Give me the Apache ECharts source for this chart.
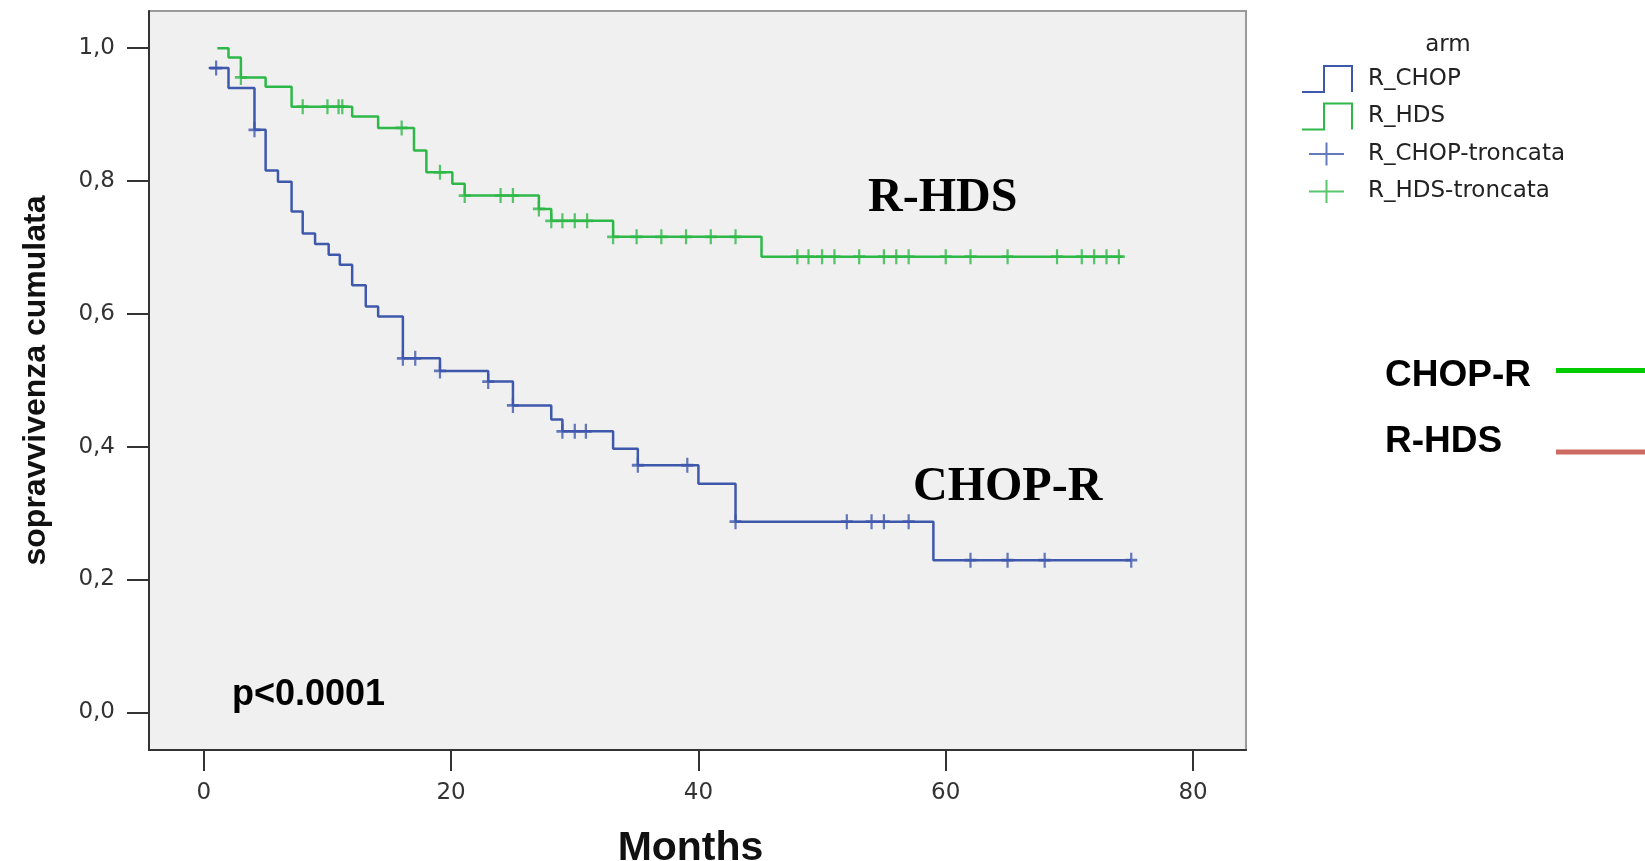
<!DOCTYPE html>
<html>
<head>
<meta charset="utf-8">
<script src="https://cdn.jsdelivr.net/npm/echarts@6/dist/echarts.min.js"></script>
<style>
html,body{margin:0;padding:0;background:#ffffff;}
#chart{width:1645px;height:861px;}
</style>
</head>
<body>
<div id="chart"></div>
<script>
// ---- data ----
const xTicks = [0, 20, 40, 60, 80];
const yTicks = [0, 0.2, 0.4, 0.6, 0.8, 1.0];

// R_CHOP Kaplan-Meier steps (time in months, cumulative survival after the step)
const chopTimes = [0.4, 2, 4.1, 5, 6, 7.1, 8, 9, 10.1, 11, 12, 13.1, 14.1, 16.1, 19.1, 23, 25, 28.1, 29, 33.1, 35.1, 40, 43, 59, 75];
const chopSurv  = [0.970, 0.940, 0.877, 0.816, 0.799, 0.754, 0.721, 0.705, 0.689, 0.674, 0.643, 0.611, 0.596, 0.533, 0.514, 0.498, 0.462, 0.441, 0.423, 0.397, 0.372, 0.344, 0.287, 0.229, 0.229];
// R_CHOP censored observations
const chopCensTimes = [1, 4.1, 16.1, 17.1, 19.1, 23, 25, 29, 30, 30.9, 35.1, 39.1, 43, 52, 54, 55, 57, 62, 65, 68, 75];
const chopCensSurv  = [0.970, 0.877, 0.533, 0.533, 0.514, 0.498, 0.462, 0.423, 0.423, 0.423, 0.372, 0.372, 0.287, 0.287, 0.287, 0.287, 0.287, 0.229, 0.229, 0.229, 0.229];

// R_HDS Kaplan-Meier steps
const hdsTimes = [1.1, 2, 3, 5, 7.1, 12, 14.1, 17, 18, 20.1, 21.1, 27.1, 28.1, 33.1, 45.1, 74.3];
const hdsSurv  = [1.0, 0.986, 0.956, 0.942, 0.912, 0.897, 0.880, 0.846, 0.813, 0.796, 0.778, 0.758, 0.740, 0.716, 0.686, 0.686];
// R_HDS censored observations
const hdsCensTimes = [3, 8, 10, 10.9, 11.2, 16, 19.1, 21.1, 24, 25, 27.1, 28.1, 29, 30, 31, 33.1, 35, 37, 39, 41, 43, 48, 48.9, 50, 51, 53, 55, 56, 57, 60, 62, 65, 69, 71, 72, 73, 74];
const hdsCensSurv  = [0.956, 0.912, 0.912, 0.912, 0.912, 0.880, 0.813, 0.778, 0.778, 0.778, 0.758, 0.740, 0.740, 0.740, 0.740, 0.716, 0.716, 0.716, 0.716, 0.716, 0.716, 0.686, 0.686, 0.686, 0.686, 0.686, 0.686, 0.686, 0.686, 0.686, 0.686, 0.686, 0.686, 0.686, 0.686, 0.686, 0.686];

const seriesNames = ['R_CHOP', 'R_HDS', 'R_CHOP-troncata', 'R_HDS-troncata'];

// ---- styling ----
const BLUE = '#3E58AC';
const GREEN = '#2EB848';
const stepIcon = 'path://M0,0 M61,28 M0,27 L22,27 L22,1 L50,1 L50,27';
const plusIcon = 'path://M0,0 M61,28 M7,14 L42,14 M24.5,2.5 L24.5,25.5';
const censorSymbol = 'path://M0,7 L12,7 M6,0 L6,14';

const zip = (a, b) => a.map((v, i) => [v, b[i]]);

const chart = echarts.init(document.getElementById('chart'), null, {renderer: 'canvas'});

const option = {
  backgroundColor: '#ffffff',
  animation: false,
  grid: {
    left: 149, right: 399, top: 11, bottom: 111,
    outerBoundsMode: 'none', containLabel: false,
    show: true, backgroundColor: '#f0f0f0', borderColor: '#9a9a9a', borderWidth: 2
  },
  xAxis: {
    type: 'value', min: -4.43, max: 84.28,
    name: 'Months', nameLocation: 'middle', nameGap: 78,
    nameTextStyle: {fontFamily: 'Liberation Sans', fontWeight: 'bold', fontSize: 41, color: '#111', padding: [0, 14, 0, 0]},
    axisLine: {show: true, onZero: false, lineStyle: {color: '#333', width: 2}},
    axisTick: {show: true, inside: false, length: 21, customValues: xTicks, lineStyle: {color: '#333', width: 2}},
    axisLabel: {customValues: xTicks, margin: 32, fontFamily: 'DejaVu Sans', fontSize: 23, color: '#333'},
    splitLine: {show: false}
  },
  yAxis: {
    type: 'value', min: -0.0568, max: 1.056,
    name: 'sopravvivenza cumulata', nameLocation: 'middle', nameGap: 97, nameRotate: 90,
    nameTextStyle: {fontFamily: 'Liberation Sans', fontWeight: 'bold', fontSize: 32, color: '#111'},
    axisLine: {show: true, onZero: false, lineStyle: {color: '#333', width: 2}},
    axisTick: {show: true, inside: false, length: 22, customValues: yTicks, lineStyle: {color: '#333', width: 2}},
    axisLabel: {customValues: yTicks, margin: 34, fontFamily: 'DejaVu Sans', fontSize: 23, color: '#333',
      formatter: v => v.toFixed(1).replace('.', ',')},
    splitLine: {show: false}
  },
  legend: {
    orient: 'vertical', left: 1301, top: 64, padding: 0,
    itemWidth: 61, itemHeight: 28, itemGap: 7.5, selectedMode: false,
    textStyle: {fontFamily: 'DejaVu Sans', fontSize: 23, color: '#222'},
    data: [
      {name: seriesNames[0], icon: stepIcon, itemStyle: {color: 'rgba(0,0,0,0)', borderColor: BLUE, borderWidth: 2}},
      {name: seriesNames[1], icon: stepIcon, itemStyle: {color: 'rgba(0,0,0,0)', borderColor: GREEN, borderWidth: 2}},
      {name: seriesNames[2], icon: plusIcon, itemStyle: {color: 'rgba(0,0,0,0)', borderColor: BLUE, borderWidth: 2}},
      {name: seriesNames[3], icon: plusIcon, itemStyle: {color: 'rgba(0,0,0,0)', borderColor: GREEN, borderWidth: 2}}
    ]
  },
  graphic: [
    {type: 'text', x: 1448, y: 45, style: {text: 'arm', fill: '#222', font: '23px "DejaVu Sans"', align: 'center', verticalAlign: 'middle'}},
    {type: 'text', x: 868, y: 199, z: 10, style: {text: 'R-HDS', fill: '#000', font: 'bold 48px "Liberation Serif"', align: 'left', verticalAlign: 'middle'}},
    {type: 'text', x: 913, y: 487.5, z: 10, style: {text: 'CHOP-R', fill: '#000', font: 'bold 48px "Liberation Serif"', align: 'left', verticalAlign: 'middle'}},
    {type: 'text', x: 232, y: 695, z: 10, style: {text: 'p<0.0001', fill: '#000', font: 'bold 36px "Liberation Sans"', align: 'left', verticalAlign: 'middle'}},
    {type: 'text', x: 1385, y: 375.5, style: {text: 'CHOP-R', fill: '#000', font: 'bold 37px "Liberation Sans"', align: 'left', verticalAlign: 'middle'}},
    {type: 'text', x: 1385, y: 441.5, style: {text: 'R-HDS', fill: '#000', font: 'bold 37px "Liberation Sans"', align: 'left', verticalAlign: 'middle'}},
    {type: 'line', shape: {x1: 1556, y1: 370.5, x2: 1645, y2: 370.5}, style: {stroke: '#00cc00', lineWidth: 5}},
    {type: 'line', shape: {x1: 1556, y1: 452, x2: 1645, y2: 452}, style: {stroke: '#cd6b63', lineWidth: 5}}
  ],
  series: [
    {name: seriesNames[0], type: 'line', step: 'end', data: zip(chopTimes, chopSurv),
      symbol: 'none', showSymbol: false, color: BLUE, lineStyle: {color: BLUE, width: 2.5}, emphasis: {disabled: true}, z: 2},
    {name: seriesNames[1], type: 'line', step: 'end', data: zip(hdsTimes, hdsSurv),
      symbol: 'none', showSymbol: false, color: GREEN, lineStyle: {color: GREEN, width: 2.5}, emphasis: {disabled: true}, z: 2},
    {name: seriesNames[2], type: 'scatter', data: zip(chopCensTimes, chopCensSurv),
      symbol: censorSymbol, symbolSize: [12, 15], itemStyle: {color: 'rgba(0,0,0,0)', borderColor: BLUE, borderWidth: 2.5}, emphasis: {disabled: true}, z: 3},
    {name: seriesNames[3], type: 'scatter', data: zip(hdsCensTimes, hdsCensSurv),
      symbol: censorSymbol, symbolSize: [12, 15], itemStyle: {color: 'rgba(0,0,0,0)', borderColor: GREEN, borderWidth: 2.5}, emphasis: {disabled: true}, z: 3}
  ]
};
chart.setOption(option);
</script>
</body>
</html>
